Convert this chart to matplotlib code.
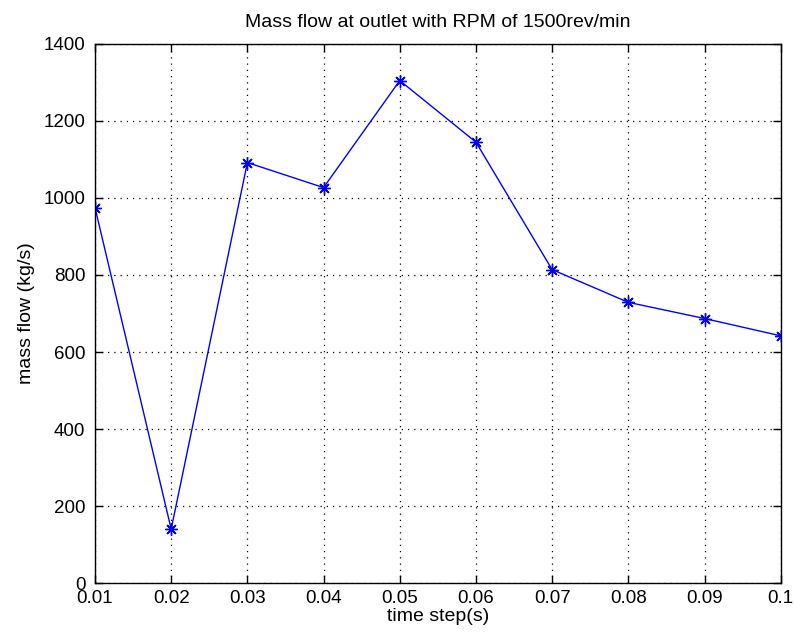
import matplotlib
matplotlib.use("Agg")
import matplotlib.pyplot as plt

plt.rcParams['font.family'] = ['Liberation Sans', 'DejaVu Sans']

time_step = [0.01, 0.02, 0.03, 0.04, 0.05, 0.06, 0.07, 0.08, 0.09, 0.10]
mass_flow = [975, 140, 1092, 1027, 1305, 1145, 814, 729, 687, 642]
x_ticks = [0.01, 0.02, 0.03, 0.04, 0.05, 0.06, 0.07, 0.08, 0.09, 0.10]
x_tick_labels = ['0.01', '0.02', '0.03', '0.04', '0.05', '0.06', '0.07', '0.08', '0.09', '0.1']
y_ticks = [0, 200, 400, 600, 800, 1000, 1200, 1400]

fig = plt.figure(figsize=(7.95, 6.44), dpi=100)
ax = fig.add_axes([0.1195, 0.0947, 0.8625, 0.837])

# asterisk markers (+ and x combined)
ax.plot(time_step, mass_flow, color='#0000ff', linewidth=1.0,
        marker=(8, 2, 0), markersize=9, markeredgewidth=1.0)

ax.set_xlim(0.01, 0.10)
ax.set_ylim(0, 1400)
ax.set_xticks(x_ticks)
ax.set_xticklabels(x_tick_labels)
ax.set_yticks(y_ticks)

ax.grid(True, color='black', linestyle=(0, (1, 4)), linewidth=0.9)
ax.tick_params(direction='in', top=True, right=True, labelsize=13.5, length=6,
               width=1.0)
ax.tick_params(axis='y', pad=7)
ax.tick_params(axis='x', pad=5)
for spine in ax.spines.values():
    spine.set_linewidth(1.0)

ax.set_title('Mass flow at outlet with RPM of 1500rev/min', fontsize=14, pad=12)
ax.set_xlabel('time step(s)', fontsize=14, labelpad=1)
ax.set_ylabel('mass flow (kg/s)', fontsize=14, labelpad=6)

fig.savefig('out.png', dpi=100)
